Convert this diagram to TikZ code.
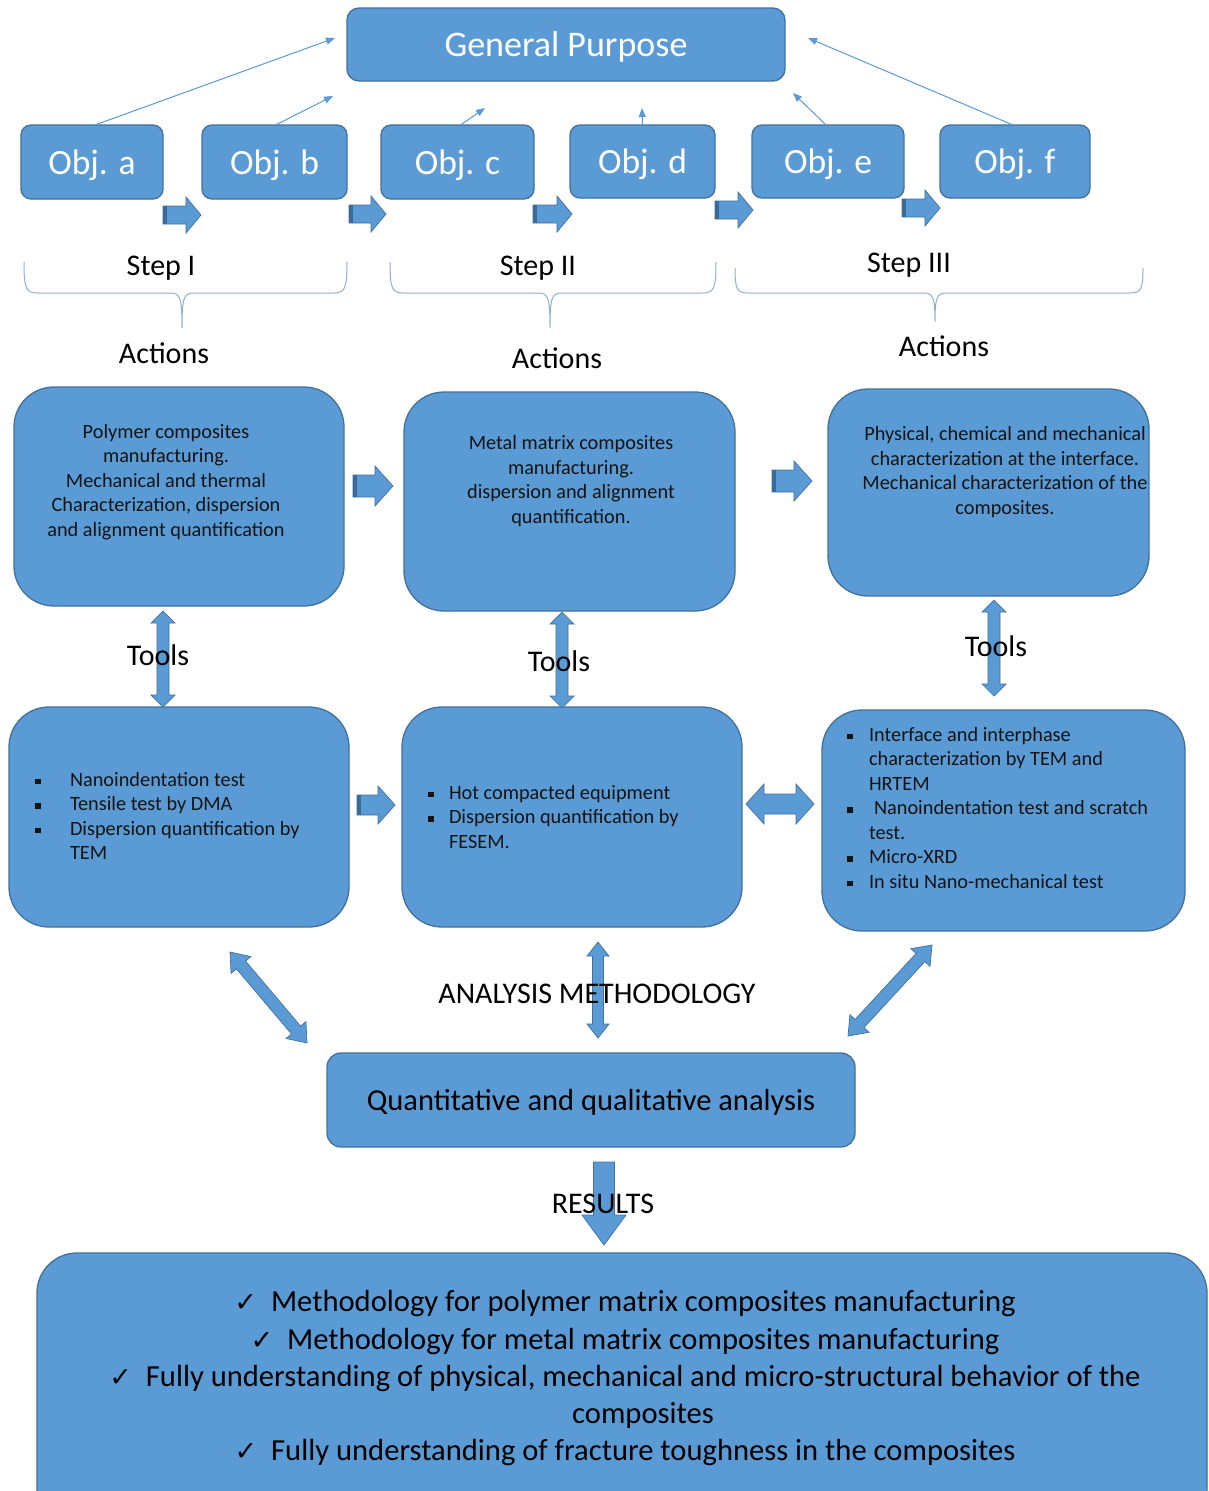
\documentclass[tikz,border=0pt]{standalone}
\usepackage{fontspec}
\setmainfont{Carlito}
\newfontfamily\dejavu{DejaVu Sans}
\usetikzlibrary{calc,arrows.meta}
\definecolor{boxblue}{HTML}{5B9BD5}
\definecolor{boxedge}{HTML}{41719C}
\definecolor{darkstripe}{HTML}{3A6A98}
\definecolor{bracecol}{HTML}{8EAFD4}
\definecolor{txt}{HTML}{141414}
\newcommand\bul{\rule[2pt]{5.5pt}{5.5pt}}
\newcommand\chk{{\dejavu\fontsize{27}{30}\selectfont ✓}}
% single block arrow: tail, tip, shaft half, head half, head length
\newcommand\singlearrow[5]{%
  \path[barrow] ($(#1)!#3!90:(#2)$) -- ($(#2)!#5!(#1)!#3!-90:(#1)$) -- ($(#2)!#5!(#1)!#4!-90:(#1)$) -- (#2)
    -- ($(#2)!#5!(#1)!#4!90:(#1)$) -- ($(#2)!#5!(#1)!#3!90:(#1)$) -- ($(#1)!#3!-90:(#2)$) -- cycle;
  \path[fill=darkstripe] ($(#1)!#3!90:(#2)$) -- ($(#1)!4pt!(#2)!#3!90:(#2)$) -- ($(#1)!4pt!(#2)!#3!-90:(#2)$) -- ($(#1)!#3!-90:(#2)$) -- cycle;}
\newcommand\plainarrow[5]{%
  \path[barrow] ($(#1)!#3!90:(#2)$) -- ($(#2)!#5!(#1)!#3!-90:(#1)$) -- ($(#2)!#5!(#1)!#4!-90:(#1)$) -- (#2)
    -- ($(#2)!#5!(#1)!#4!90:(#1)$) -- ($(#2)!#5!(#1)!#3!90:(#1)$) -- ($(#1)!#3!-90:(#2)$) -- cycle;}
% double block arrow: end A, end B, shaft half, head half, head length
\newcommand\doublearrow[5]{%
  \path[barrow] (#1) -- ($(#1)!#5!(#2)!#4!90:(#2)$) -- ($(#1)!#5!(#2)!#3!90:(#2)$) -- ($(#2)!#5!(#1)!#3!-90:(#1)$)
    -- ($(#2)!#5!(#1)!#4!-90:(#1)$) -- (#2) -- ($(#2)!#5!(#1)!#4!90:(#1)$) -- ($(#2)!#5!(#1)!#3!90:(#1)$)
    -- ($(#1)!#5!(#2)!#3!-90:(#2)$) -- ($(#1)!#5!(#2)!#4!-90:(#2)$) -- cycle;}
\tikzset{
  every node/.style={inner sep=0pt, outer sep=0pt},
  bx/.style={draw=boxedge, fill=boxblue, line width=1.3pt},
  objbox/.style={bx, rounded corners=10pt, minimum height=74pt, text=white, text depth=0pt, font=\fontsize{35.5}{42}\selectfont},
  bigbox/.style={bx, rounded corners=40pt},
  lbl/.style={font=\fontsize{30}{36}\selectfont, text=black, anchor=base},
  reslbl/.style={font=\fontsize{30.6}{37}\selectfont, text=black, anchor=base},
  boxtext/.style={font=\fontsize{20.3}{24.5}\selectfont, text=txt, align=center},
  listtext/.style={font=\fontsize{20.3}{24.5}\selectfont, text=txt, anchor=base west},
  objlink/.style={draw=boxblue, line width=1pt, -{Triangle[length=9pt,width=7pt]}},
  bracepath/.style={draw=bracecol, line width=1pt},
  barrow/.style={fill=boxblue, draw=boxedge, line width=0.7pt, line join=miter},
}
\begin{document}
\begin{tikzpicture}[x=1pt,y=-1pt]
\clip (0,0) rectangle (1209,1491);
\fill[white] (0,0) rectangle (1209,1491);

% top boxes
\node[bx, rounded corners=12pt, minimum width=438pt, minimum height=73pt, text=white, text depth=0pt, font=\fontsize{36}{43}\selectfont] (gp) at (566,44.5) {General Purpose};
\node[objbox, minimum width=142pt] (oa) at (92,162) {Obj. a};
\node[objbox, minimum width=145pt] (ob) at (274.5,162) {Obj. b};
\node[objbox, minimum width=153pt] (oc) at (457.5,162) {Obj. c};
\node[objbox, minimum width=145pt, minimum height=73pt] (od) at (642.5,161.5) {Obj. d};
\node[objbox, minimum width=152pt, minimum height=73pt] (oe) at (828,161.5) {Obj. e};
\node[objbox, minimum width=150pt, minimum height=73pt] (of) at (1015,161.5) {Obj. f};

% thin links to general purpose
\coordinate (pa) at (335,38);
\coordinate (pb) at (333,96);
\coordinate (pc) at (485,108);
\coordinate (pd) at (642,108);
\coordinate (pe) at (793,93);
\coordinate (pf) at (808,38);
\draw[objlink] ([xshift=3pt]oa.north) -- (pa);
\draw[objlink] ([xshift=1pt]ob.north) -- (pb);
\draw[objlink] ([xshift=3pt]oc.north) -- (pc);
\draw[objlink] (od.north) -- (pd);
\draw[objlink] ([xshift=-2pt]oe.north) -- (pe);
\draw[objlink] ([xshift=-2pt]of.north) -- (pf);

% small block arrows between objectives
\coordinate (r1s) at (163,215); \coordinate (r1e) at (201,215);
\coordinate (r2s) at (349,214); \coordinate (r2e) at (386,214);
\coordinate (r3s) at (533,214); \coordinate (r3e) at (572,214);
\coordinate (r4s) at (715,210); \coordinate (r4e) at (753,210);
\coordinate (r5s) at (902,208); \coordinate (r5e) at (940,208);
\singlearrow{r1s}{r1e}{9pt}{18pt}{15pt}
\singlearrow{r2s}{r2e}{9pt}{18pt}{15pt}
\singlearrow{r3s}{r3e}{9pt}{18pt}{15pt}
\singlearrow{r4s}{r4e}{9pt}{18pt}{15pt}
\singlearrow{r5s}{r5e}{9pt}{18pt}{15pt}

% braces
\draw[bracepath] (24,262) .. controls (24,289) and (26,293) .. (38,293) -- (170,293)
  .. controls (180,293) and (182,297) .. (182,328) .. controls (182,297) and (184,293) .. (194,293)
  -- (333,293) .. controls (345,293) and (347,289) .. (347,262);
\draw[bracepath] (390,262) .. controls (390,289) and (392,293) .. (404,293) -- (538,293)
  .. controls (548,293) and (550,297) .. (550,328) .. controls (550,297) and (552,293) .. (562,293)
  -- (702,293) .. controls (714,293) and (716,289) .. (716,262);
\draw[bracepath] (735,268) .. controls (735,290) and (737,293) .. (749,293) -- (923,293)
  .. controls (933,293) and (935,297) .. (935,322) .. controls (935,297) and (937,293) .. (947,293)
  -- (1129,293) .. controls (1141,293) and (1143,290) .. (1143,268);

\node[lbl] (s1) at (161,275) {Step I};
\node[lbl] (s2) at (538,275) {Step II};
\node[lbl] (s3) at (909,272) {Step III};
\node[lbl] (ac1) at (164,363) {Actions};
\node[lbl] (ac2) at (557,368) {Actions};
\node[lbl] (ac3) at (944,356) {Actions};

% action boxes
\node[bigbox, minimum width=330pt, minimum height=219pt] (a1) at (179,496.5) {};
\node[bigbox, minimum width=331pt, minimum height=219pt] (a2) at (569.5,501.5) {};
\node[bigbox, minimum width=321pt, minimum height=207pt] (a3) at (988.5,492.5) {};
\node[boxtext] (a1t) at (166,482) {Polymer composites\\manufacturing.\\Mechanical and thermal\\Characterization, dispersion\\and alignment quantification};
\node[boxtext] (a2t) at (571,481) {Metal matrix composites\\manufacturing.\\dispersion and alignment\\quantification.};
\node[boxtext] (a3t) at (1005,472) {Physical, chemical and mechanical\\characterization at the interface.\\Mechanical characterization of the\\composites.};

\coordinate (x1s) at (353,486); \coordinate (x1e) at (393,486);
\coordinate (x2s) at (772,481); \coordinate (x2e) at (812,481);
\singlearrow{x1s}{x1e}{11pt}{20pt}{18pt}
\singlearrow{x2s}{x2e}{11pt}{20pt}{18pt}

% tool boxes
\node[bigbox, minimum width=340pt, minimum height=220pt] (t1) at (179,817) {};
\node[bigbox, minimum width=340pt, minimum height=220pt] (t2) at (572,817) {};
\node[bigbox, minimum width=363pt, minimum height=221pt] (t3) at (1003.5,820.5) {};
\node[listtext] (t1t) at (35,786) {\begin{tabular}[t]{@{}l@{}l@{}}\makebox[35pt][l]{\bul}&Nanoindentation test\\
  \makebox[35pt][l]{\bul}&Tensile test by DMA\\
  \makebox[35pt][l]{\bul}&Dispersion quantification by\\
  &TEM\end{tabular}};
\node[listtext] (t2t) at (428,799) {\begin{tabular}[t]{@{}l@{}l@{}}\makebox[21pt][l]{\bul}&Hot compacted equipment\\
  \makebox[21pt][l]{\bul}&Dispersion quantification by\\
  &FESEM.\end{tabular}};
\node[listtext] (t3t) at (847,741) {\begin{tabular}[t]{@{}l@{}l@{}}\makebox[22pt][l]{\bul}&Interface and interphase\\
  &characterization by TEM and\\
  &HRTEM\\
  \makebox[22pt][l]{\bul}&\hspace{5pt}Nanoindentation test and scratch\\
  &test.\\
  \makebox[22pt][l]{\bul}&Micro-XRD\\
  \makebox[22pt][l]{\bul}&In situ Nano-mechanical test\end{tabular}};

% tools arrows
\coordinate (v1a) at (163,611); \coordinate (v1b) at (163,707);
\coordinate (v2a) at (562,612); \coordinate (v2b) at (562,708);
\coordinate (v3a) at (994,600); \coordinate (v3b) at (994,696);
\doublearrow{v1a}{v1b}{6pt}{12pt}{12pt}
\doublearrow{v2a}{v2b}{6pt}{12pt}{12pt}
\doublearrow{v3a}{v3b}{6pt}{12pt}{12pt}
\node[lbl] (tl1) at (158,665) {Tools};
\node[lbl] (tl2) at (559,671) {Tools};
\node[lbl] (tl3) at (996,656) {Tools};

\coordinate (y1s) at (357,805); \coordinate (y1e) at (395,805);
\singlearrow{y1s}{y1e}{10pt}{19pt}{17pt}
\coordinate (y2a) at (746,804); \coordinate (y2b) at (814,804);
\doublearrow{y2a}{y2b}{10pt}{20pt}{18pt}

% analysis arrows
\coordinate (d1a) at (230,952); \coordinate (d1b) at (307,1043);
\coordinate (d2a) at (598,942); \coordinate (d2b) at (598,1038);
\coordinate (d3a) at (932,945); \coordinate (d3b) at (848,1036);
\doublearrow{d1a}{d1b}{6pt}{13pt}{17pt}
\doublearrow{d2a}{d2b}{5.5pt}{11pt}{14pt}
\doublearrow{d3a}{d3b}{6pt}{13pt}{17pt}
\node[lbl] (am) at (597,1003) {ANALYSIS METHODOLOGY};

\node[bx, rounded corners=14pt, minimum width=528pt, minimum height=94pt, text depth=0pt, font=\fontsize{30.5}{36}\selectfont, text=black] (qa) at (591,1100) {Quantitative and qualitative analysis};

\coordinate (rs) at (604,1162); \coordinate (re) at (604,1245);
\plainarrow{rs}{re}{10.5pt}{22pt}{30pt}
\node[lbl] (res) at (603,1213) {RESULTS};

% results box
\node[bigbox, minimum width=1170pt, minimum height=277pt] (rb) at (622,1391.5) {};
\node[reslbl] (rl1) at (625,1311) {\chk\hspace{14pt}Methodology for polymer matrix composites manufacturing};
\node[reslbl] (rl2) at (625,1349) {\chk\hspace{14pt}Methodology for metal matrix composites manufacturing};
\node[reslbl] (rl3) at (625,1386) {\chk\hspace{14pt}Fully understanding of physical, mechanical and micro-structural behavior of the};
\node[reslbl] (rl4) at (643,1423) {composites};
\node[reslbl] (rl5) at (625,1460) {\chk\hspace{14pt}Fully understanding of fracture toughness in the composites};
\end{tikzpicture}
\end{document}
